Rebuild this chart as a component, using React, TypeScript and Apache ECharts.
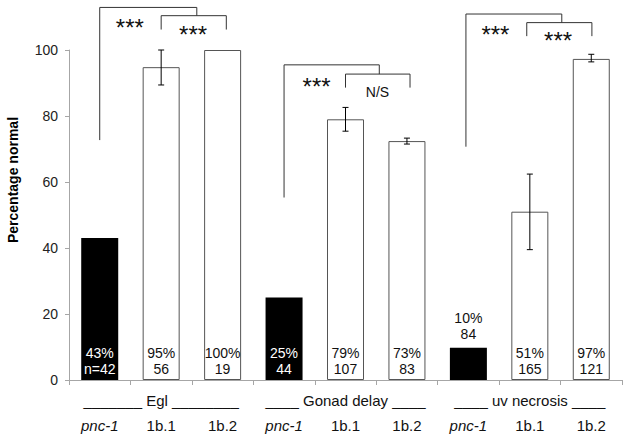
import React, { useEffect, useRef } from "react";
import * as echarts from "echarts";

const categories = ["pnc-1", "1b.1", "1b.2", "pnc-1", "1b.1", "1b.2", "pnc-1", "1b.1", "1b.2"];
const groupLabels = ["", "_______ Egl ________", "", "", "____ Gonad delay ____", "", "", "____ uv necrosis ____", ""];
const values = [43, 94.8, 100, 25, 79, 72.4, 9.8, 51, 97.3];
const pctLabels = ["43%", "95%", "100%", "25%", "79%", "73%", "10%", "51%", "97%"];
const nLabels = ["n=42", "56", "19", "44", "107", "83", "84", "165", "121"];
const isMutant = [true, false, false, true, false, false, true, false, false];
const labelAbove = [false, false, false, false, false, false, true, false, false];

const errIndex = [1, 4, 5, 7, 8];
const errLow = [89.4, 75.4, 71.5, 39.5, 96.4];
const errHigh = [100, 82.6, 73.3, 62.4, 98.7];

// [startCategory, endCategory, top, leftEnd, rightEnd]
const brackets = [
  [0, 1.58, 112.9, 72.7, 110.4],
  [1, 2.06, 110.4, 106.2, 106.2],
  [3, 4.55, 95.5, 55.3, 92.7],
  [4, 5.05, 92.7, 88.6, 88.6],
  [5.96, 7.52, 110.9, 70.7, 108.3],
  [6.95, 8.01, 108.3, 104.2, 104.2],
];
const sigText = ["***", "***", "***", "N/S", "***", "***"];
const sigCat = [0.49, 1.52, 3.53, 4.52, 6.44, 7.46];
const sigVal = [108.3, 106.1, 90.6, 87.4, 106.3, 104.5];

const yTicks = { min: 0, max: 100, interval: 20 };

const FONT = "'Liberation Sans', Arial, sans-serif";

export default function App() {
  const ref = useRef<HTMLDivElement>(null);
  useEffect(() => {
    if (!ref.current) return;
    const chart = echarts.init(ref.current, null, { renderer: "svg" });

    const barData = values.map((v, i) => ({
      value: v,
      itemStyle: isMutant[i]
        ? { color: "#000", borderColor: "#000", borderWidth: 0 }
        : { color: "#fff", borderColor: "#555", borderWidth: 1 },
      label: {
        show: true,
        position: labelAbove[i] ? "top" : "insideBottom",
        distance: labelAbove[i] ? 6 : 3,
        formatter: pctLabels[i] + "\n" + nLabels[i],
        color: isMutant[i] && !labelAbove[i] ? "#fff" : "#111",
        fontSize: 14,
        lineHeight: 16,
        fontFamily: FONT,
        align: "center",
      },
    }));

    const option: any = {
      animation: false,
      textStyle: { fontFamily: FONT },
      grid: { left: 69, right: 7, top: 50, bottom: 61 },
      xAxis: {
        type: "category",
        data: categories.map((_, i) => String(i)),
        axisLine: { show: true, lineStyle: { color: "#a6a6a6", width: 1 } },
        axisTick: { show: true, length: 5, lineStyle: { color: "#a6a6a6" } },
        axisLabel: {
          interval: 0,
          margin: 8,
          formatter: (_v: string, idx: number) => {
            const g = groupLabels[idx] || " ";
            const style = idx % 3 === 0 ? "i" : "c";
            return `{g|${g}}\n{${style}|${categories[idx]}}`;
          },
          rich: {
            g: { fontSize: 15, lineHeight: 25, color: "#111", fontFamily: FONT, align: "center" },
            c: { fontSize: 15, lineHeight: 25, color: "#111", fontFamily: FONT, align: "center" },
            i: { fontSize: 15, lineHeight: 25, color: "#111", fontFamily: FONT, fontStyle: "italic", align: "center" },
          },
        },
        splitLine: { show: false },
      },
      yAxis: {
        type: "value",
        min: yTicks.min,
        max: yTicks.max,
        interval: yTicks.interval,
        axisLine: { show: true, lineStyle: { color: "#a6a6a6", width: 1 } },
        axisTick: { show: true, length: 4, lineStyle: { color: "#a6a6a6" } },
        axisLabel: { margin: 11, fontSize: 14, color: "#222", fontFamily: FONT },
        splitLine: { show: false },
      },
      graphic: [
        {
          type: "text",
          x: 13,
          y: 180,
          rotation: Math.PI / 2,
          style: {
            text: "Percentage normal",
            fontSize: 14,
            fontWeight: "bold",
            fontFamily: FONT,
            fill: "#000",
            align: "center",
            verticalAlign: "middle",
          },
        },
      ],
      series: [
        {
          type: "bar",
          data: barData,
          barWidth: 37,
          z: 2,
        },
        {
          type: "custom",
          z: 5,
          data: errIndex.map((c, i) => [c, errLow[i], errHigh[i]]),
          renderItem: (params: any, api: any) => {
            const c = api.value(0);
            const lo = api.coord([c, api.value(1)]);
            const hi = api.coord([c, api.value(2)]);
            const w = 3;
            const st = { stroke: "#000", lineWidth: 1 };
            return {
              type: "group",
              children: [
                { type: "line", shape: { x1: lo[0], y1: lo[1], x2: hi[0], y2: hi[1] }, style: st },
                { type: "line", shape: { x1: lo[0] - w, y1: lo[1], x2: lo[0] + w, y2: lo[1] }, style: st },
                { type: "line", shape: { x1: hi[0] - w, y1: hi[1], x2: hi[0] + w, y2: hi[1] }, style: st },
              ],
            };
          },
        },
        {
          type: "custom",
          z: 5,
          clip: false,
          data: brackets.map((_, i) => [i]),
          renderItem: (params: any, api: any) => {
            const b = brackets[params.dataIndex];
            const band = api.size([1, 0])[0];
            const x0 = api.coord([0, 0])[0];
            const X = (c: number) => x0 + c * band;
            const Y = (v: number) => api.coord([0, v])[1];
            return {
              type: "polyline",
              shape: {
                points: [
                  [X(b[0]), Y(b[3])],
                  [X(b[0]), Y(b[2])],
                  [X(b[1]), Y(b[2])],
                  [X(b[1]), Y(b[4])],
                ],
              },
              style: { stroke: "#333", fill: null, lineWidth: 1 },
            };
          },
        },
        {
          type: "custom",
          z: 6,
          clip: false,
          data: sigText.map((_, i) => [i]),
          renderItem: (params: any, api: any) => {
            const i = params.dataIndex;
            const band = api.size([1, 0])[0];
            const x0 = api.coord([0, 0])[0];
            const x = x0 + sigCat[i] * band;
            const y = api.coord([0, sigVal[i]])[1];
            const stars = sigText[i] === "***";
            return {
              type: "text",
              x,
              y: stars ? y + 5 : y,
              style: {
                text: sigText[i],
                fontSize: stars ? 24 : 14,
                fontWeight: "normal",
                fontFamily: FONT,
                fill: "#111",
                align: "center",
                verticalAlign: "middle",
              },
            };
          },
        },
      ],
    };
    chart.setOption(option);
    return () => chart.dispose();
  }, []);
  return (
    <div
      ref={ref}
      style={{ position: "fixed", left: 0, top: 0, width: 629, height: 441, background: "#fff" }}
    />
  );
}
